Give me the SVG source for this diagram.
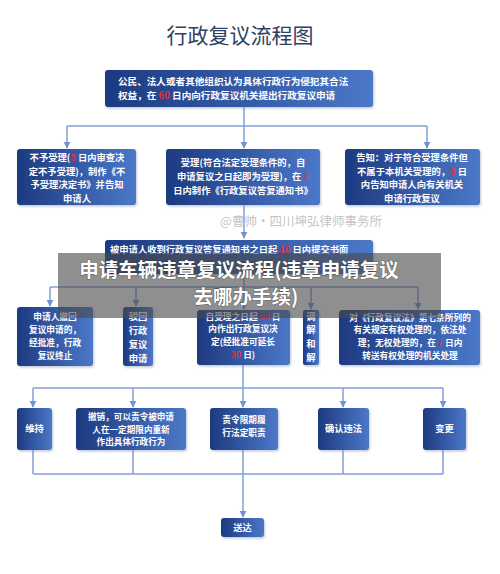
<svg xmlns="http://www.w3.org/2000/svg" width="500" height="574" viewBox="0 0 500 574">
<defs>
<linearGradient id="g" x1="0" y1="0" x2="1" y2="0">
<stop offset="0" stop-color="#1d3a80"/>
<stop offset="1" stop-color="#4b78c8"/>
</linearGradient>
<filter id="sh" x="-10%" y="-10%" width="120%" height="130%">
<feDropShadow dx="1" dy="1.5" stdDeviation="1" flood-color="#8090b0" flood-opacity="0.5"/>
</filter>
<marker id="ar" viewBox="0 0 10 10" refX="9" refY="5" markerWidth="7" markerHeight="8" orient="auto" markerUnits="userSpaceOnUse">
<path d="M0,0 L10,5 L0,10 Z" fill="#6f92d0"/>
</marker>
<style>
.box{fill:url(#g);filter:url(#sh);}
.t{font-family:"Noto Sans CJK SC","Noto Sans",sans-serif;font-weight:bold;font-size:9.3px;fill:#ffffff;text-anchor:middle;}
.s{font-size:8.7px;}
.r{fill:#e0303a;}
.c{fill:none;stroke:#84a0d6;stroke-width:1.5;}
.ca{fill:none;stroke:#84a0d6;stroke-width:1.5;marker-end:url(#ar);}
</style>
</defs>
<rect width="500" height="574" fill="#ffffff"/>
<text x="240" y="43" font-family="Noto Sans CJK SC,sans-serif" font-size="21" fill="#2e4164" text-anchor="middle">行政复议流程图</text>
<text x="301" y="226" font-family="Noto Sans CJK SC,sans-serif" font-size="12.5" fill="#c4c4c4" text-anchor="middle">@曹帅·四川坤弘律师事务所</text>

<g id="connectors">
<path class="c" d="M244,106 V126 M67,126 H427"/>
<path class="ca" d="M67,126 V148"/>
<path class="ca" d="M244,126 V148"/>
<path class="ca" d="M427,126 V148"/>
<path class="ca" d="M244,205 V238"/>
<path class="c" d="M244,274 V287 M50,287 H418"/>
<path class="ca" d="M50,287 V306"/>
<path class="ca" d="M136,287 V306"/>
<path class="ca" d="M244,287 V309"/>
<path class="ca" d="M311,287 V309"/>
<path class="ca" d="M418,287 V309"/>
<path class="c" d="M243,365 V388 M33,388 H443"/>
<path class="ca" d="M33,388 V407"/>
<path class="ca" d="M133,388 V407"/>
<path class="ca" d="M243,388 V407"/>
<path class="ca" d="M343,388 V407"/>
<path class="ca" d="M443,388 V407"/>
<path class="c" d="M33,450 V474 M133,450 V474 M243,450 V474 M343,450 V474 M443,450 V474 M33,474 H443"/>
<path class="ca" d="M243,474 V517"/>
</g>

<g id="n1">
<rect class="box" x="105" y="70" width="268" height="37" rx="3"/>
<text class="t" x="118" y="84.5" style="text-anchor:start;font-size:9.6px">公民、法人或者其他组织认为具体行政行为侵犯其合法</text>
<text class="t" x="118" y="98.5" style="text-anchor:start;font-size:9.6px">权益，在 <tspan class="r">60</tspan> 日内向行政复议机关提出行政复议申请</text>
</g>

<g id="n2">
<rect class="box" x="17" y="149" width="119" height="56" rx="3"/>
<text class="t" x="77" y="161">不予受理(<tspan class="r">5</tspan> 日内审查决</text>
<text class="t" x="77" y="174.5">定不予受理)，制作《不</text>
<text class="t" x="77" y="188">予受理决定书》并告知</text>
<text class="t" x="77" y="201.5">申请人</text>
</g>

<g id="n3">
<rect class="box" x="166" y="149" width="154" height="56" rx="3"/>
<text class="t" x="243" y="166">受理(符合法定受理条件的，自</text>
<text class="t" x="243" y="180">申请复议之日起即为受理)，在 <tspan class="r">7</tspan></text>
<text class="t" x="243" y="194">日内制作《行政复议答复通知书》</text>
</g>

<g id="n4">
<rect class="box" x="345" y="149" width="135" height="56" rx="3"/>
<text class="t" x="412" y="161">告知：对于符合受理条件但</text>
<text class="t" x="412" y="174.5">不属于本机关受理的，<tspan class="r">5</tspan> 日</text>
<text class="t" x="412" y="188">内告知申请人向有关机关</text>
<text class="t" x="412" y="201.5">申请行政复议</text>
</g>

<g id="n5">
<rect class="box" x="105" y="240" width="268" height="34" rx="3"/>
<text class="t" x="110" y="252.5" style="text-anchor:start">被申请人收到行政复议答复通知书之日起 <tspan class="r">10</tspan> 日内提交书面</text>
</g>

<g id="n6">
<rect class="box" x="17" y="307" width="76" height="59" rx="3"/>
<text class="t s" x="55" y="320">申请人撤回</text>
<text class="t s" x="55" y="333">复议申请的，</text>
<text class="t s" x="55" y="346">经批准，行政</text>
<text class="t s" x="55" y="359">复议终止</text>
</g>

<g id="n7">
<rect class="box" x="123" y="307" width="30" height="59" rx="3"/>
<text class="t" x="138" y="320">驳回</text>
<text class="t" x="138" y="334">行政</text>
<text class="t" x="138" y="348">复议</text>
<text class="t" x="138" y="362">申请</text>
</g>

<g id="n8">
<rect class="box" x="197" y="310" width="93" height="55" rx="3"/>
<text class="t s" x="243" y="319.5">自受理之日起 <tspan class="r">60</tspan> 日</text>
<text class="t s" x="243" y="332.3">内作出行政复议决</text>
<text class="t s" x="243" y="345.1">定(经批准可延长</text>
<text class="t s" x="243" y="357.9"><tspan class="r">30</tspan> 日)</text>
</g>

<g id="n9">
<rect class="box" x="303" y="310" width="16" height="55" rx="2"/>
<text class="t" x="311" y="319.5">调</text>
<text class="t" x="311" y="333">解</text>
<text class="t" x="311" y="347">和</text>
<text class="t" x="311" y="361">解</text>
</g>

<g id="n10">
<rect class="box" x="339" y="310" width="141" height="55" rx="3"/>
<text class="t s" x="410" y="320.5">对《行政复议法》第七条所列的</text>
<text class="t s" x="410" y="333.3">有关规定有权处理的，依法处</text>
<text class="t s" x="410" y="346.1">理；无权处理的，在 <tspan class="r">7</tspan> 日内</text>
<text class="t s" x="410" y="358.9">转送有权处理的机关处理</text>
</g>

<g id="n11">
<rect class="box" x="17" y="408" width="35" height="42" rx="3"/>
<text class="t" x="34.5" y="432">维持</text>
</g>
<g id="n12">
<rect class="box" x="76" y="408" width="110" height="42" rx="3"/>
<text class="t" x="131" y="420" style="font-size:8.6px">撤销，可以责令被申请</text>
<text class="t" x="131" y="432.5" style="font-size:8.6px">人在一定期限内重新</text>
<text class="t" x="131" y="445" style="font-size:8.6px">作出具体行政行为</text>
</g>
<g id="n13">
<rect class="box" x="210" y="408" width="68" height="42" rx="3"/>
<text class="t s" x="244" y="422.5">责令限期履</text>
<text class="t s" x="244" y="435.5">行法定职责</text>
</g>
<g id="n14">
<rect class="box" x="318" y="408" width="51" height="42" rx="3"/>
<text class="t" x="343.5" y="432">确认违法</text>
</g>
<g id="n15">
<rect class="box" x="423" y="408" width="43" height="42" rx="3"/>
<text class="t" x="444.5" y="432">变更</text>
</g>
<g id="n16">
<rect class="box" x="221" y="518" width="43" height="19" rx="3"/>
<text class="t" x="242.5" y="531">送达</text>
</g>

<g id="banner">
<rect x="58" y="253" width="383" height="65" fill="#4a4a4a" fill-opacity="0.62"/>
<text x="239" y="277" font-family="Noto Sans CJK SC,sans-serif" font-weight="bold" font-size="19.5" fill="#ffffff" text-anchor="middle" stroke="#333" stroke-width="0.6" paint-order="stroke">申请车辆违章复议流程(违章申请复议</text>
<text x="246" y="304" font-family="Noto Sans CJK SC,sans-serif" font-weight="bold" font-size="19.5" fill="#ffffff" text-anchor="middle" stroke="#333" stroke-width="0.6" paint-order="stroke">去哪办手续)</text>
</g>
</svg>
